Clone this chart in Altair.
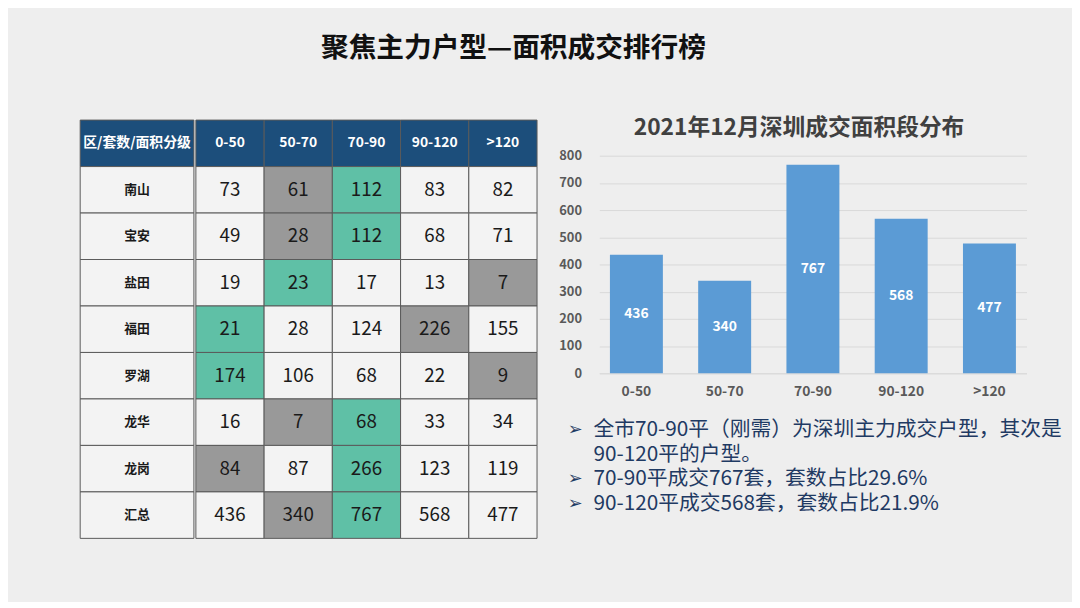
import altair as alt
import pandas as pd

FONT = "Noto Sans CJK SC"

# ---- data ----
districts = ["南山", "宝安", "盐田", "福田", "罗湖", "龙华", "龙岗", "汇总"]
bins = ["0-50", "50-70", "70-90", "90-120", ">120"]
v_0_50 = [73, 49, 19, 21, 174, 16, 84, 436]
v_50_70 = [61, 28, 23, 28, 106, 7, 87, 340]
v_70_90 = [112, 112, 17, 124, 68, 68, 266, 767]
v_90_120 = [83, 68, 13, 226, 22, 33, 123, 568]
v_gt120 = [82, 71, 7, 155, 9, 34, 119, 477]
teal_cols = ["70-90", "70-90", "50-70", "0-50", "0-50", "70-90", "70-90", "70-90"]
gray_cols = ["50-70", "50-70", ">120", "90-120", ">120", "50-70", "0-50", "50-70"]
header_label = "区/套数/面积分级"

bar_totals = [436, 340, 767, 568, 477]
y_ticks = [0, 100, 200, 300, 400, 500, 600, 700, 800]

bullet_lines = [
    "全市70-90平（刚需）为深圳主力成交户型，其次是",
    "90-120平的户型。",
    "70-90平成交767套，套数占比29.6%",
    "90-120平成交568套，套数占比21.9%",
]
bullet_flags = [True, False, True, True]

main_title = "聚焦主力户型—面积成交排行榜"
bar_title = "2021年12月深圳成交面积段分布"

# ---- colors ----
C_HEADER = "#1c4e7b"
C_TEAL = "#5fc0a6"
C_GRAY = "#999999"
C_PLAIN = "#f3f3f3"
C_BORDER = "#5a5a5a"
C_BG = "#eeeeee"
C_BAR = "#5b9bd5"
C_NAVY = "#1f3a63"

row_order = ["header"] + districts
cat_scale = alt.Scale(domain=["header", "teal", "gray", "plain"],
                      range=[C_HEADER, C_TEAL, C_GRAY, C_PLAIN])

# grid table data
cols = [v_0_50, v_50_70, v_70_90, v_90_120, v_gt120]
recs = []
for b in bins:
    recs.append({"row": "header", "col": b, "label": b, "cat": "header"})
for i, d in enumerate(districts):
    for j, b in enumerate(bins):
        cat = "teal" if teal_cols[i] == b else ("gray" if gray_cols[i] == b else "plain")
        recs.append({"row": d, "col": b, "label": str(cols[j][i]), "cat": cat})
grid_df = pd.DataFrame(recs)

lab_recs = [{"row": "header", "label": header_label, "cat": "header"}]
for d in districts:
    lab_recs.append({"row": d, "label": d, "cat": "plain"})
lab_df = pd.DataFrame(lab_recs)

yrow = alt.Y("row:N", sort=row_order,
             scale=alt.Scale(domain=row_order, paddingInner=0, paddingOuter=0), axis=None)

lab_base = alt.Chart(lab_df).encode(y=yrow)
lab_rect = lab_base.mark_rect(stroke=C_BORDER, strokeWidth=1).encode(
    color=alt.Color("cat:N", scale=cat_scale, legend=None))
lab_head = lab_base.transform_filter("datum.row == 'header'").mark_text(
    font=FONT, fontWeight="bold", fontSize=14, color="white").encode(text="label:N")
lab_text = lab_base.transform_filter("datum.row != 'header'").mark_text(
    font=FONT, fontWeight="bold", fontSize=13, color="#1a1a1a").encode(text="label:N")
lab_chart = alt.layer(lab_rect, lab_head, lab_text).properties(width=115, height=423)

xcol = alt.X("col:N", sort=bins,
             scale=alt.Scale(domain=bins, paddingInner=0, paddingOuter=0), axis=None)
grid_base = alt.Chart(grid_df).encode(x=xcol, y=yrow)
grid_rect = grid_base.mark_rect(stroke=C_BORDER, strokeWidth=1).encode(
    color=alt.Color("cat:N", scale=cat_scale, legend=None))
grid_head = grid_base.transform_filter("datum.row == 'header'").mark_text(
    font=FONT, fontWeight="bold", fontSize=14, color="white").encode(text="label:N")
grid_num = grid_base.transform_filter("datum.row != 'header'").mark_text(
    font=FONT, fontSize=19, color="#1a1a1a").encode(text="label:N")
grid_chart = alt.layer(grid_rect, grid_head, grid_num).properties(width=345, height=423)

table = alt.hconcat(lab_chart, grid_chart, spacing=0).resolve_scale(color="independent", y="independent")

# ---- bar chart title (as its own strip) ----
bt_df = pd.DataFrame({"t": [bar_title]})
bar_title_chart = alt.Chart(bt_df).mark_text(
    font=FONT, fontSize=23, fontWeight="bold", color="#404040", baseline="middle").encode(
    text="t:N", x=alt.value(202), y=alt.value(8)).properties(width=432, height=30)

# ---- bar chart ----
y_axis = alt.Axis(title=None, values=y_ticks, tickCount=9, domain=False, ticks=False,
                  labelOverlap=False, gridColor="#d9d9d9", labelFont=FONT,
                  labelFontWeight="bold", labelFontSize=13, labelColor="#595959",
                  labelPadding=18)
y_scale = alt.Scale(domain=[0, 800])
bar_df = pd.DataFrame({"bin": bins, "count": bar_totals})
bx = alt.X("bin:N", sort=bins, scale=alt.Scale(paddingInner=0.4, paddingOuter=0.12),
           axis=alt.Axis(title=None, labelAngle=0, ticks=False, domainColor="#d9d9d9",
                         labelFont=FONT, labelFontWeight="bold", labelFontSize=14,
                         labelColor="#595959", labelPadding=12))
bar_base = alt.Chart(bar_df).encode(x=bx)
bars = bar_base.mark_bar(color=C_BAR).encode(
    y=alt.Y("count:Q", scale=y_scale, axis=y_axis))
bar_labels = bar_base.transform_calculate(mid="datum.count / 2").mark_text(
    font=FONT, fontWeight="bold", fontSize=14, color="white").encode(
    y=alt.Y("mid:Q", scale=y_scale, axis=y_axis), text="count:Q")
bar_chart = alt.layer(bars, bar_labels).properties(width=432, height=220)

# ---- bullets ----
bul_df = pd.DataFrame({"idx": list(range(len(bullet_lines))), "line": bullet_lines,
                       "bullet": bullet_flags})
by = alt.Y("idx:O", scale=alt.Scale(paddingInner=0, paddingOuter=0), axis=None)
bul_base = alt.Chart(bul_df).encode(y=by)
bul_text = bul_base.mark_text(font=FONT, fontSize=21, color=C_NAVY, align="left",
                              baseline="middle").encode(x=alt.value(-6), text="line:N")
bul_mark = bul_base.transform_filter("datum.bullet").mark_text(
    font="DejaVu Sans", fontSize=18, color=C_NAVY, align="left", baseline="middle").encode(
    x=alt.value(-32), text=alt.value("➢"))
bul_chart = alt.layer(bul_mark, bul_text).properties(width=440, height=100)

right = alt.vconcat(alt.vconcat(bar_title_chart, bar_chart, spacing=0), bul_chart, spacing=19)

chart = alt.hconcat(table, right, spacing=20).properties(
    title=alt.TitleParams(main_title, font=FONT, fontSize=28, fontWeight="bold",
                          color="#111111", anchor="start", dx=244, offset=55),
    padding={"left": 72, "top": 24, "right": 10, "bottom": 60},
    background=C_BG,
).configure_view(stroke=None).configure_concat(spacing=0)

chart.save("out.html", embed_options={"renderer": "svg", "actions": False})
